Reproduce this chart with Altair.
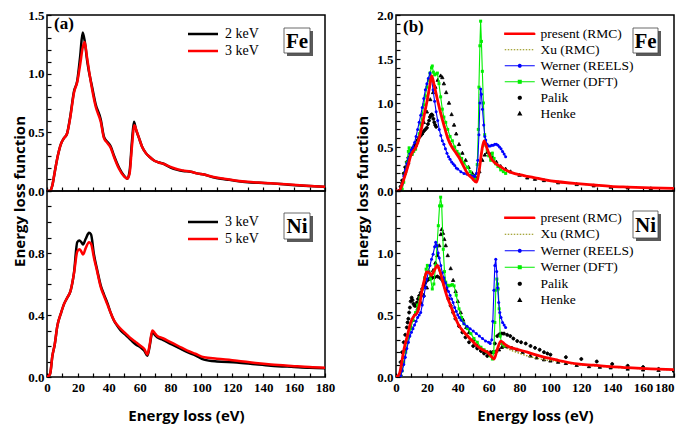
import altair as alt
import pandas as pd

# ---------------- data ----------------
# (a) Fe
fe_2kev_E = [0, 2, 3.5, 5, 7, 9, 11, 13, 15, 17.5, 19.6, 21.5, 23.1, 24.5, 26.1, 29.3, 31.5, 34.8, 36.9, 39, 41.2, 43.4, 46.6, 49.9, 52, 53.5, 55, 56.3, 57.5, 59.6, 61.5, 63.9, 66.5, 69.3, 72, 75.8, 80, 84.4, 88, 93, 97, 101.7, 107, 112.5, 118, 123, 130, 137, 145, 155, 166, 173, 180]
fe_2kev_v = [0, 0, 0.05, 0.16, 0.3, 0.4, 0.45, 0.49, 0.63, 0.85, 0.94, 1.15, 1.35, 1.27, 1.1, 0.88, 0.74, 0.61, 0.46, 0.42, 0.38, 0.3, 0.2, 0.13, 0.105, 0.17, 0.42, 0.59, 0.53, 0.45, 0.38, 0.325, 0.29, 0.26, 0.245, 0.23, 0.2, 0.18, 0.17, 0.165, 0.15, 0.14, 0.12, 0.105, 0.095, 0.085, 0.075, 0.07, 0.065, 0.055, 0.045, 0.04, 0.035]
fe_3kev_E = [0, 2, 3.5, 5, 7, 9, 11, 13, 15, 17.5, 19.6, 21.5, 23.1, 24.4, 25.8, 27.5, 29.3, 31.5, 34.8, 36.9, 39, 41.2, 43.4, 46.6, 49.9, 52, 53.5, 55, 56.6, 57.8, 59.6, 61.5, 63.9, 66.5, 69.3, 72, 75.8, 80, 84.4, 88, 93, 97, 101.7, 107, 112.5, 118, 123, 130, 137, 145, 155, 166, 173, 180]
fe_3kev_v = [0, 0, 0.05, 0.16, 0.3, 0.4, 0.45, 0.49, 0.62, 0.84, 0.93, 1.08, 1.22, 1.27, 1.15, 1.0, 0.86, 0.72, 0.59, 0.45, 0.41, 0.37, 0.29, 0.19, 0.125, 0.105, 0.15, 0.38, 0.56, 0.52, 0.45, 0.38, 0.325, 0.29, 0.26, 0.245, 0.23, 0.205, 0.185, 0.175, 0.165, 0.15, 0.14, 0.122, 0.108, 0.098, 0.088, 0.078, 0.072, 0.066, 0.057, 0.047, 0.041, 0.037]

# (a) Ni
ni_a_E = [0, 2, 3.5, 5, 6.7, 9, 11, 13, 15.3, 17.5, 19.6, 21, 22.2, 23.3, 25, 27.2, 28.5, 30.4, 32.5, 34.8, 37, 39, 41, 43.4, 45.5, 47.7, 51, 54.2, 57.5, 60.7, 63, 65, 66.5, 68.2, 70, 71.4, 75, 80, 85, 90.9, 96, 101.7, 110, 123, 135, 145, 160, 170, 180]
ni_3kev_v = [0, 0.02, 0.137, 0.21, 0.33, 0.41, 0.47, 0.51, 0.557, 0.675, 0.87, 0.88, 0.87, 0.855, 0.89, 0.93, 0.92, 0.79, 0.69, 0.59, 0.53, 0.48, 0.42, 0.363, 0.33, 0.30, 0.27, 0.24, 0.21, 0.19, 0.17, 0.137, 0.2, 0.29, 0.27, 0.256, 0.24, 0.213, 0.19, 0.16, 0.14, 0.112, 0.1, 0.094, 0.082, 0.073, 0.065, 0.06, 0.057]
ni_5kev_v = [0, 0.02, 0.137, 0.21, 0.33, 0.41, 0.47, 0.51, 0.557, 0.67, 0.81, 0.825, 0.81, 0.79, 0.83, 0.87, 0.86, 0.77, 0.68, 0.58, 0.52, 0.47, 0.42, 0.365, 0.335, 0.31, 0.28, 0.25, 0.225, 0.2, 0.18, 0.145, 0.21, 0.30, 0.28, 0.265, 0.25, 0.225, 0.2, 0.17, 0.15, 0.127, 0.118, 0.105, 0.09, 0.08, 0.07, 0.064, 0.06]

# (b) Fe
fe_rmc_E = [0, 2, 4, 6.3, 8, 9.5, 11, 12.7, 15, 17, 18.7, 20.3, 21.7, 23.1, 24.5, 26.8, 29, 31, 33.5, 36.5, 38.5, 40.8, 43.5, 46.2, 49, 52.2, 54, 55.5, 57, 59, 61.3, 64, 67.8, 72, 76.4, 80, 85, 90, 95.8, 105, 117.4, 128, 139, 150, 165, 180]
fe_rmc_v = [0, 0, 0.08, 0.2, 0.3, 0.40, 0.45, 0.49, 0.6, 0.75, 0.9, 1.04, 1.18, 1.31, 1.22, 1.04, 0.88, 0.75, 0.6, 0.49, 0.44, 0.38, 0.29, 0.20, 0.15, 0.10, 0.25, 0.45, 0.57, 0.48, 0.38, 0.32, 0.275, 0.23, 0.20, 0.185, 0.167, 0.15, 0.13, 0.105, 0.083, 0.068, 0.053, 0.045, 0.036, 0.03]
fe_xu_E = [0, 2, 4, 6.3, 8, 9.5, 11, 12.7, 15, 17, 18.7, 20.3, 21.7, 23.5, 25, 27, 29, 31, 33.5, 36.5, 38.5, 40.8, 43.5, 46.2, 49, 52.2, 54, 55.5, 57.5, 59, 61.3, 64, 67.8, 72, 76.4, 80, 85, 90, 95.8, 105, 117.4, 128, 139, 150, 165, 180]
fe_xu_v = [0, 0, 0.07, 0.19, 0.29, 0.39, 0.45, 0.49, 0.6, 0.74, 0.88, 1.02, 1.15, 1.28, 1.2, 1.04, 0.9, 0.77, 0.63, 0.52, 0.46, 0.4, 0.31, 0.22, 0.16, 0.11, 0.22, 0.42, 0.55, 0.48, 0.38, 0.31, 0.27, 0.225, 0.195, 0.18, 0.16, 0.145, 0.125, 0.1, 0.08, 0.065, 0.052, 0.044, 0.035, 0.03]
fe_reels_E = [3, 4, 5, 6, 7, 8, 9, 10, 11, 12, 13, 14, 15, 16, 17, 18, 19, 20, 21, 22, 23, 24, 25, 26, 27, 28, 29, 30, 31, 32, 33, 34, 35, 36, 37, 38, 39, 40, 42, 44, 46, 48, 50, 51, 52, 53, 53.7, 54.3, 54.8, 55.3, 56, 56.8, 57.5, 58.1, 59, 60, 61, 62, 63, 64, 65, 66, 67, 68, 69, 70, 71]
fe_reels_v = [0, 0.08, 0.17, 0.24, 0.31, 0.37, 0.42, 0.47, 0.5, 0.55, 0.62, 0.7, 0.78, 0.86, 0.95, 1.05, 1.15, 1.22, 1.28, 1.34, 1.28, 1.15, 1.02, 0.9, 0.8, 0.7, 0.63, 0.57, 0.53, 0.48, 0.43, 0.39, 0.36, 0.33, 0.31, 0.29, 0.26, 0.25, 0.22, 0.2, 0.19, 0.18, 0.17, 0.165, 0.2, 0.35, 0.64, 1.0, 1.16, 1.1, 0.93, 0.75, 0.62, 0.58, 0.53, 0.51, 0.51, 0.52, 0.52, 0.53, 0.53, 0.52, 0.5, 0.48, 0.45, 0.42, 0.39]
fe_dft_E = [4, 5, 6, 7, 8, 8.5, 9.5, 10.5, 11.5, 12.7, 14, 15, 16, 17, 18, 19, 20, 21, 22, 23, 23.5, 24.2, 25, 26, 26.8, 27.8, 28.9, 30, 31, 32.2, 33.5, 35, 36.5, 38, 39.5, 40.8, 42.5, 44, 46.2, 48, 50, 50.5, 51.5, 52.6, 53.3, 53.7, 54.3, 54.8, 55.3, 55.9, 56.6, 57.4, 58.2, 59.1, 60, 61.3, 62.4, 63.5, 64.5, 66, 67.8, 69.5, 71]
fe_dft_v = [0.02, 0.1, 0.2, 0.32, 0.45, 0.49, 0.45, 0.42, 0.45, 0.475, 0.55, 0.65, 0.76, 0.87, 0.98, 1.08, 1.18, 1.26, 1.34, 1.4, 1.42, 1.35, 1.32, 1.33, 1.34, 1.22, 1.07, 0.93, 0.84, 0.78, 0.7, 0.62, 0.57, 0.5, 0.45, 0.42, 0.37, 0.32, 0.27, 0.22, 0.17, 0.14, 0.13, 0.3, 0.7, 1.18, 1.65, 1.93, 1.7, 1.36, 1.0, 0.64, 0.52, 0.46, 0.4, 0.35, 0.43, 0.37, 0.31, 0.28, 0.24, 0.22, 0.20]
fe_palik_E = [2, 3, 4, 5, 6, 7, 8, 9, 10, 11, 12, 13, 14, 15, 16, 17, 18, 19, 20, 20.7, 21.4, 22, 22.6, 23.1, 23.6, 24.2, 24.8, 25.4, 26]
fe_palik_v = [0, 0.05, 0.12, 0.2, 0.27, 0.33, 0.38, 0.43, 0.46, 0.49, 0.52, 0.55, 0.58, 0.61, 0.63, 0.65, 0.68, 0.7, 0.72, 0.76, 0.8, 0.84, 0.86, 0.87, 0.86, 0.82, 0.78, 0.75, 0.73]
fe_henke_E = [2.5, 4, 6, 8, 10, 12.7, 14, 16, 18, 20, 22.2, 24, 25.5, 27, 28.9, 30, 31, 32.5, 34.3, 36, 37.6, 39, 40.8, 43, 45.1, 47, 49.4, 51, 52.6, 54, 55.9, 57.5, 59.1, 60.8, 62.4, 65, 67.8, 71, 74.2, 80, 85, 90, 95.8, 105, 117, 128, 139, 150, 165, 180]
fe_henke_v = [0, 0.1, 0.22, 0.32, 0.42, 0.52, 0.58, 0.68, 0.78, 0.9, 1.04, 1.12, 1.18, 1.26, 1.31, 1.29, 1.22, 1.12, 1.0, 0.87, 0.75, 0.65, 0.53, 0.43, 0.35, 0.27, 0.2, 0.17, 0.15, 0.22, 0.35, 0.41, 0.44, 0.42, 0.38, 0.33, 0.28, 0.25, 0.22, 0.18, 0.15, 0.135, 0.12, 0.095, 0.075, 0.06, 0.045, 0.037, 0.028, 0.02]

# (b) Ni
ni_rmc_E = [0, 2, 5.2, 7.5, 9.5, 11.5, 13.8, 15.5, 17, 18.5, 19.8, 21.5, 22.9, 24.8, 26.8, 28.5, 31, 33, 35.4, 38, 40.8, 43.5, 46.2, 49.5, 52.6, 56, 59.1, 61.5, 63.5, 65.5, 67.8, 70, 72.1, 78, 85, 90, 95.8, 105, 117.4, 128, 139, 150, 165, 180]
ni_rmc_v = [0, 0.02, 0.226, 0.34, 0.44, 0.49, 0.52, 0.6, 0.71, 0.79, 0.845, 0.84, 0.82, 0.86, 0.90, 0.85, 0.735, 0.65, 0.575, 0.49, 0.414, 0.37, 0.333, 0.29, 0.25, 0.22, 0.2, 0.17, 0.145, 0.22, 0.29, 0.27, 0.25, 0.225, 0.2, 0.18, 0.16, 0.135, 0.105, 0.095, 0.083, 0.075, 0.066, 0.06]
ni_xu_v = [0, 0.02, 0.21, 0.33, 0.43, 0.48, 0.52, 0.6, 0.72, 0.8, 0.86, 0.86, 0.84, 0.87, 0.88, 0.83, 0.72, 0.64, 0.565, 0.48, 0.41, 0.36, 0.32, 0.28, 0.245, 0.215, 0.195, 0.17, 0.15, 0.21, 0.27, 0.25, 0.23, 0.2, 0.17, 0.155, 0.14, 0.125, 0.1, 0.09, 0.08, 0.072, 0.064, 0.058]
ni_reels_E = [3, 4, 5, 6, 7, 8, 9, 10, 11, 12, 13, 14, 15, 16, 17, 18, 19, 20, 21, 22, 23, 24, 25, 25.7, 26.5, 27.3, 28, 29, 30, 31, 32, 33, 34, 35, 36, 37, 38, 39, 40, 41, 42, 44, 46, 48, 50, 52, 54, 56, 58, 60, 61, 62, 62.7, 63.4, 64, 64.6, 65.2, 65.8, 66.5, 67.2, 68, 69, 70, 71]
ni_reels_v = [0.01, 0.05, 0.1, 0.16, 0.23, 0.28, 0.33, 0.36, 0.39, 0.42, 0.45, 0.48, 0.5, 0.52, 0.58, 0.65, 0.72, 0.79, 0.85, 0.9, 0.95, 0.99, 1.05, 1.086, 1.06, 1.0, 0.96, 0.9, 0.84, 0.8, 0.76, 0.72, 0.69, 0.66, 0.63, 0.6, 0.56, 0.53, 0.5, 0.48, 0.46, 0.43, 0.41, 0.39, 0.37, 0.35, 0.33, 0.31, 0.29, 0.28, 0.27, 0.3, 0.45, 0.7, 0.9, 0.95, 0.85, 0.72, 0.6, 0.52, 0.48, 0.44, 0.42, 0.40]
ni_dft_E = [3, 4, 5, 6.3, 7.5, 8.5, 9.5, 11, 12.7, 14, 15.5, 17, 18.5, 19.5, 20.3, 21.3, 22.4, 23.5, 24.5, 25.7, 26.5, 27.4, 28.2, 28.9, 29.6, 30.6, 31.4, 32.2, 33.2, 34.3, 35.5, 36.5, 37.6, 39, 40.8, 42.5, 44, 46.2, 48.5, 50.5, 52.6, 55, 57, 59.1, 61, 62.4, 63.3, 64, 64.6, 65.3, 65.8, 66.2, 66.8, 67.5, 68.5, 70]
ni_dft_v = [0.01, 0.05, 0.12, 0.2, 0.28, 0.33, 0.39, 0.46, 0.52, 0.58, 0.64, 0.71, 0.8, 0.87, 0.9, 0.85, 0.79, 0.71, 0.75, 0.9, 1.05, 1.22, 1.38, 1.45, 1.38, 1.03, 0.85, 0.765, 0.74, 0.735, 0.74, 0.745, 0.735, 0.66, 0.55, 0.48, 0.43, 0.39, 0.35, 0.31, 0.28, 0.24, 0.22, 0.2, 0.17, 0.145, 0.2, 0.44, 0.7, 0.79, 0.75, 0.71, 0.55, 0.33, 0.27, 0.25]
ni_palik_E = [2, 3, 4, 5, 6, 7, 7.5, 8, 8.5, 9, 9.5, 10.1, 10.7, 11.3, 12, 12.7, 13.5, 14.3, 15, 16, 17, 18, 19, 20.3, 21.5, 22.5, 23.5, 25, 26.8, 28.5, 30, 31, 32.5, 34, 35.4, 37, 38.5, 40.8, 43, 45, 47.3, 50, 52.6, 55, 57, 59.1, 60.5, 62.4, 64, 65.6, 67, 68.5, 69.9, 72, 74, 76, 78.5, 81, 84, 87.1, 90, 93, 95.8, 98, 100, 110, 120, 130, 140, 150, 160, 170, 180]
ni_palik_v = [0, 0.12, 0.2, 0.28, 0.34, 0.4, 0.44, 0.47, 0.52, 0.56, 0.61, 0.64, 0.62, 0.59, 0.575, 0.575, 0.6, 0.63, 0.655, 0.68, 0.71, 0.74, 0.76, 0.78, 0.79, 0.8, 0.80, 0.805, 0.81, 0.8, 0.78, 0.76, 0.7, 0.63, 0.575, 0.52, 0.47, 0.41, 0.36, 0.32, 0.28, 0.25, 0.23, 0.21, 0.19, 0.17, 0.18, 0.2, 0.27, 0.33, 0.345, 0.35, 0.35, 0.34, 0.33, 0.31, 0.29, 0.28, 0.27, 0.25, 0.235, 0.22, 0.2, 0.19, 0.18, 0.16, 0.145, 0.125, 0.105, 0.09, 0.08, 0.065, 0.05]
ni_henke_E = [3, 4, 5, 6, 7, 8, 9.5, 11, 12.5, 14, 16, 18, 20, 22.4, 24, 25.5, 26.8, 28, 29, 29.6, 30.4, 31.3, 32.2, 33.5, 35.4, 37, 38.6, 40, 41.9, 43.5, 45.5, 47.3, 50, 52.6, 55, 57, 59.1, 61, 63.5, 65, 66.7, 68.5, 69.9, 72, 75, 78.5, 82, 87, 91, 95.8, 100, 105, 110, 117, 125, 132, 139, 150, 160, 170, 180]
ni_henke_v = [0.02, 0.1, 0.16, 0.22, 0.28, 0.33, 0.41, 0.46, 0.51, 0.55, 0.6, 0.66, 0.72, 0.80, 0.86, 0.92, 0.98, 1.06, 1.15, 1.19, 1.16, 1.11, 1.06, 0.98, 0.875, 0.78, 0.69, 0.61, 0.52, 0.46, 0.4, 0.36, 0.3, 0.25, 0.22, 0.21, 0.2, 0.2, 0.2, 0.21, 0.22, 0.24, 0.25, 0.245, 0.235, 0.22, 0.2, 0.17, 0.155, 0.14, 0.13, 0.12, 0.11, 0.095, 0.085, 0.08, 0.075, 0.065, 0.058, 0.054, 0.05]

names_b = ["present (RMC)", "Xu (RMC)", "Werner (REELS)", "Werner (DFT)", "Palik", "Henke"]
colors_b = ["#ff0000", "#8c8c00", "#0000ff", "#00ee00", "#000000", "#000000"]

# ---------------- layout / style ----------------
W, H1, H2 = 278, 176, 186
SERIF = "Liberation Serif"
SANS = "Open Sans"


def long_df(names, Es, vs):
    rows = []
    for n, E, v in zip(names, Es, vs):
        for e, y in zip(E, v):
            rows.append({"series": n, "E": e, "v": y})
    return pd.DataFrame(rows)


def xaxis(bottom, last_right=False):
    kw = dict(values=list(range(0, 181, 10)), tickSize=4, offset=-4, domain=False, grid=False,
              tickColor="black", tickWidth=1.2, labelFlush=False, labelOverlap=False)
    if bottom:
        kw.update(labels=True, labelExpr="datum.value % 20 === 0 ? datum.label : ''",
                  labelFont=SERIF, labelFontWeight="bold", labelFontSize=13, labelColor="black",
                  labelPadding=4, title="Energy loss (eV)", titleFont=SANS, titleFontWeight="bold",
                  titleFontSize=15, titleColor="black", titlePadding=14)
        if last_right:
            kw["labelAlign"] = {"expr": "datum.value == 180 ? 'right' : 'center'"}
    else:
        kw.update(labels=False, title=None)
    return alt.Axis(**kw)


def yaxis(ymax, majors, title, h, tpad):
    ticks = [round(i * 0.1, 1) for i in range(int(round(ymax * 10)) + 1)]
    mj = "[" + ",".join("'%.1f'" % m for m in majors) + "]"
    kw = dict(values=ticks, tickSize=4, offset=-4, domain=False, grid=False, tickColor="black",
              tickWidth=1.2, labelFlush=False, labelOverlap=False,
              labelExpr="indexof(%s, format(datum.value, '.1f')) >= 0 ? format(datum.value, '.1f') : ''" % mj,
              labelFont=SERIF, labelFontWeight="bold", labelFontSize=13, labelColor="black",
              labelPadding=3)
    if title:
        kw.update(title="Energy loss function", titleY=h, titleFont=SANS, titleFontWeight="bold",
                  titleFontSize=15, titleColor="black", titlePadding=tpad)
    else:
        kw.update(title=None)
    return alt.Axis(**kw)


def annotations(elem, box, tag, tag_y):
    x1, x2, y1, y2 = box
    d = pd.DataFrame({"t": [elem], "tag": [tag]})
    base = alt.Chart(d)
    layers = [
        base.mark_rect(color="#5a5a5a").encode(x=alt.value(x1 + 3), x2=alt.value(x2 + 3),
                                               y=alt.value(y1 + 3), y2=alt.value(y2 + 3)),
        base.mark_rect(fill="white", stroke="#444444", strokeWidth=0.8).encode(
            x=alt.value(x1), x2=alt.value(x2), y=alt.value(y1), y2=alt.value(y2)),
        base.mark_text(font=SERIF, fontSize=21, fontWeight="bold", color="black").encode(
            x=alt.value((x1 + x2) / 2), y=alt.value((y1 + y2) / 2 + 1), text="t:N"),
    ]
    if tag:
        layers.append(base.mark_text(font=SERIF, fontSize=17, fontWeight="bold", color="black",
                                     align="left").encode(x=alt.value(7), y=alt.value(tag_y), text="tag:N"))
    return layers


def panel_a(names, Es, vs, ymax, majors, top, h, leg_xy, box, elem, tag, tag_y):
    df = long_df(names, Es, vs)
    X = alt.X("E:Q", scale=alt.Scale(domain=[0, 180], nice=False, zero=False), axis=xaxis(not top))
    Y = alt.Y("v:Q", scale=alt.Scale(domain=[0, ymax], nice=False, zero=False),
              axis=yaxis(ymax, majors, top, h, 0))
    lines = alt.Chart(df).mark_line(strokeWidth=2.5, interpolate="monotone", clip=True).encode(
        x=X, y=Y,
        color=alt.Color("series:N", scale=alt.Scale(domain=names, range=["#000000", "#ff0000"]),
                        legend=alt.Legend(orient="none", legendX=leg_xy[0], legendY=leg_xy[1], title=None,
                                          labelFont=SERIF, labelFontSize=14, labelColor="black",
                                          padding=0, rowPadding=3, symbolSize=100,
                                          symbolStrokeWidth=2.5, symbolType="M-3,0H3", labelOffset=15)))
    return alt.layer(lines, *annotations(elem, box, tag, tag_y)).properties(width=W, height=h)


def panel_b(Es, vs, ymax, majors, top, h, leg_xy, row_pad, box, elem, tag, tag_y):
    X = alt.X("E:Q", scale=alt.Scale(domain=[0, 180], nice=False, zero=False),
              axis=xaxis(not top, last_right=True))
    Y = alt.Y("v:Q", scale=alt.Scale(domain=[0, ymax], nice=False, zero=False),
              axis=yaxis(ymax, majors, top, h, 6))
    rmc_E, rmc_v, xu_E, xu_v, re_E, re_v, dft_E, dft_v, pa_E, pa_v, he_E, he_v = (
        Es[0], vs[0], Es[1], vs[1], Es[2], vs[2], Es[3], vs[3], Es[4], vs[4], Es[5], vs[5])
    pts = long_df(["Palik", "Henke"], [pa_E, he_E], [pa_v, he_v])
    shapes = [
        "M-3,-0.13H3V0.13H-3Z",
        "M-3,0H3",
        "M-3,0H3M-0.28,0A0.28,0.28 0 1,0 0.28,0A0.28,0.28 0 1,0 -0.28,0Z",
        "M-3,0H3M-0.28,-0.28H0.28V0.28H-0.28Z",
        "M-0.3,0A0.3,0.3 0 1,0 0.3,0A0.3,0.3 0 1,0 -0.3,0Z",
        "M0,-0.36L0.33,0.24L-0.33,0.24Z",
    ]
    dashes = [[1, 0], [1.5, 1.5], [1, 0], [1, 0], [1, 0], [1, 0]]
    legend = alt.Legend(orient="none", legendX=leg_xy[0], legendY=leg_xy[1], title=None,
                        labelFont=SERIF, labelFontSize=13.5, labelColor="black", padding=0,
                        rowPadding=row_pad, symbolSize=100, symbolStrokeWidth=1.2, labelOffset=14)
    point_layer = alt.Chart(pts).mark_point(filled=False, size=100, opacity=1, strokeWidth=1.0,
                                            clip=True).encode(
        x=X, y=Y,
        color=alt.Color("series:N", scale=alt.Scale(domain=names_b, range=colors_b), legend=legend),
        fill=alt.Fill("series:N", scale=alt.Scale(domain=names_b, range=colors_b), legend=legend),
        shape=alt.Shape("series:N", scale=alt.Scale(domain=names_b, range=shapes), legend=legend),
        strokeDash=alt.StrokeDash("series:N", scale=alt.Scale(domain=names_b, range=dashes), legend=legend),
    )

    def line(E, v, color, width, dash=None, interp="linear"):
        d = pd.DataFrame({"E": E, "v": v})
        kw = dict(color=color, strokeWidth=width, interpolate=interp, clip=True)
        if dash:
            kw["strokeDash"] = dash
        return alt.Chart(d).mark_line(**kw).encode(x=X, y=Y)

    def markers(E, v, color, shape):
        d = pd.DataFrame({"E": E, "v": v})
        return alt.Chart(d).mark_point(shape=shape, filled=True, size=9, color=color, opacity=1,
                                       clip=True).encode(x=X, y=Y)

    layers = [
        point_layer,
        line(dft_E, dft_v, "#00ee00", 1.1), markers(dft_E, dft_v, "#00ee00", "square"),
        line(re_E, re_v, "#0000ff", 1.1), markers(re_E, re_v, "#0000ff", "circle"),
        line(xu_E, xu_v, "#8c8c00", 1.2, [1.5, 1.5], "monotone"),
        line(rmc_E, rmc_v, "#ff0000", 2.8, None, "monotone"),
    ]
    return alt.layer(*layers, *annotations(elem, box, tag, tag_y)).properties(width=W, height=h)


fe_a = panel_a(["2 keV", "3 keV"], [fe_2kev_E, fe_3kev_E], [fe_2kev_v, fe_3kev_v], 1.5,
               [0, 0.5, 1.0, 1.5], True, H1, (149, 12), (237, 263, 13, 38), "Fe", "(a)", 9)
ni_a = panel_a(["3 keV", "5 keV"], [ni_a_E, ni_a_E], [ni_3kev_v, ni_5kev_v], 1.2,
               [0, 0.4, 0.8], False, H2, (149, 24), (237, 263, 22, 48), "Ni", "", 0)
fe_b = panel_b([fe_rmc_E, fe_xu_E, fe_reels_E, fe_dft_E, fe_palik_E, fe_henke_E],
               [fe_rmc_v, fe_xu_v, fe_reels_v, fe_dft_v, fe_palik_v, fe_henke_v], 2.0,
               [0, 0.5, 1.0, 1.5, 2.0], True, H1, (117, 12), 1, (237, 262, 13, 38), "Fe", "(b)", 12)
ni_b = panel_b([ni_rmc_E, ni_rmc_E, ni_reels_E, ni_dft_E, ni_palik_E, ni_henke_E],
               [ni_rmc_v, ni_xu_v, ni_reels_v, ni_dft_v, ni_palik_v, ni_henke_v], 1.5,
               [0, 0.5, 1.0], False, H2, (117, 20), 1.5, (237, 262, 20, 47), "Ni", "", 0)

chart = alt.concat(fe_a, fe_b, ni_a, ni_b, columns=2, spacing={"row": 0, "column": 71},
                   bounds="flush").resolve_scale(
    x="independent", y="independent", color="independent", fill="independent",
    shape="independent", strokeDash="independent").resolve_legend(
    color="independent", fill="independent", shape="independent",
    strokeDash="independent").properties(
    padding={"left": 4, "top": 0, "right": 0, "bottom": 0},
    background="white").configure_view(stroke="black", strokeWidth=1.5)

chart.save("out.html", embed_options={"renderer": "svg", "actions": False})
